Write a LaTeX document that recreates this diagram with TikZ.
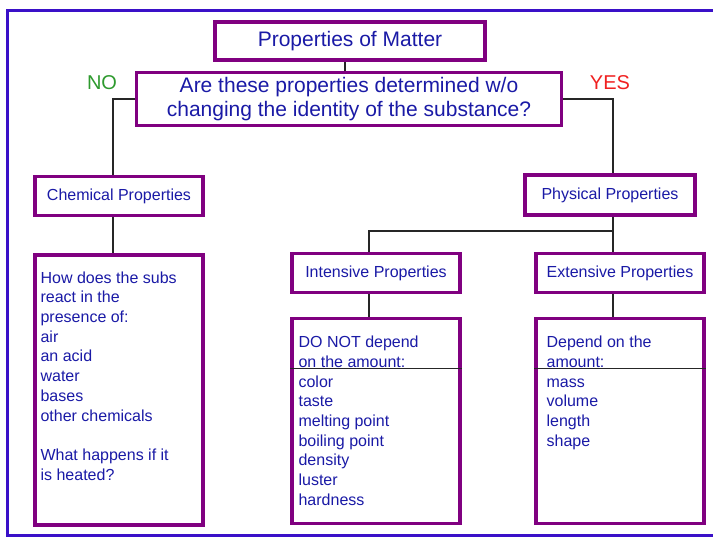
\documentclass[tikz,border=0pt]{standalone}
\usepackage{fontspec}
\setmainfont{Liberation Sans}
\usetikzlibrary{positioning}
\definecolor{boxpurple}{HTML}{800080}
\definecolor{txtblue}{HTML}{1A1AA6}
\definecolor{frameblue}{HTML}{3A10C8}
\definecolor{nogreen}{HTML}{2E9A2E}
\definecolor{yesred}{HTML}{F02020}

\begin{document}
\begin{tikzpicture}[x=1pt,y=-1pt]
	\tikzstyle{mybox}=[draw=boxpurple, line width=3.2pt, fill=white, text=txtblue, inner sep=0pt, font=\fontsize{16}{19.7}\selectfont]
	% the big header boxes
	\tikzstyle{mybig}=[mybox, font=\fontsize{21}{24}\selectfont, align=center]
	\tikzstyle{mylist}=[text=txtblue, align=left, anchor=north west, inner sep=0pt, font=\fontsize{16}{19.7}\selectfont]
	\tikzstyle{myline}=[draw=black!85, line width=2pt]
	\tikzstyle{mydesc}=[font=\fontsize{20}{22}\selectfont, inner sep=0pt]

	\clip (0,0) rectangle (713,537);
	\draw[frameblue, line width=3pt] (7.5,10.5) rectangle (722,535);

	\node[mybox, mybig, minimum width=270, minimum height=38] (title) at (350,41) {Properties of Matter};
	\node[mybox, mybig, minimum width=425, minimum height=53] (quest) at (349,99) {Are these properties determined w/o\\changing the identity of the substance?};
	\node[mydesc, text=nogreen] (no) at (102,83) {NO};
	\node[mydesc, text=yesred] (yes) at (610,83) {YES};

	\node[mybox, minimum width=168, minimum height=39] (chem) at (119,196) {Chemical Properties};
	\node[mybox, minimum width=170, minimum height=40] (phys) at (610,195) {Physical Properties};

	\node[mybox, minimum width=168, minimum height=270] (chemdet) at (119,390) {};
	\node[mylist] (chemtxt) at ([xshift=7, yshift=-18]chemdet.north west) {How does the subs\\react in the\\presence of:\\air\\an acid\\water\\bases\\other chemicals\\[19.7pt]What happens if it\\is heated?};

	\node[mybox, minimum width=168, minimum height=39] (int) at (376,273) {Intensive Properties};
	\node[mybox, minimum width=168, minimum height=39] (ext) at (620,273) {Extensive Properties};

	\node[mybox, minimum width=168, minimum height=205] (intdet) at (376,421) {};
	\node[mylist] (inttxt) at ([xshift=8, yshift=-19]intdet.north west) {DO NOT depend\\on the amount:\\color\\taste\\melting point\\boiling point\\density\\luster\\hardness};
	\node[mybox, minimum width=168, minimum height=205] (extdet) at (620,421) {};
	\node[mylist] (exttxt) at ([xshift=12, yshift=-19]extdet.north west) {Depend on the\\amount:\\mass\\volume\\length\\shape};

	% dividers under the headings
	\draw[black!85, line width=1.2pt] ([yshift=-52]intdet.north west) -- ([yshift=-52]intdet.north east);
	\draw[black!85, line width=1.2pt] ([yshift=-52]extdet.north west) -- ([yshift=-52]extdet.north east);

	\draw[myline] ([xshift=-5]title.south) -- ([xshift=-5]title.south |- quest.north);
	\draw[myline] (quest.west) -| ([xshift=-6]chem.north);
	\draw[myline] (quest.east) -| ([xshift=3]phys.north);
	\draw[myline] ([xshift=-6]chem.south) -- ([xshift=-6]chemdet.north);
	\draw[myline] ([xshift=3]phys.south) -- ([xshift=3]phys.south |- ext.north);
	\draw[myline] ([xshift=3, yshift=-14]phys.south) -| ([xshift=-7]int.north);
	\draw[myline] ([xshift=-7]int.south) -- ([xshift=-7]intdet.north);
	\draw[myline] ([xshift=-7]ext.south) -- ([xshift=-7]extdet.north);
\end{tikzpicture}
\end{document}
